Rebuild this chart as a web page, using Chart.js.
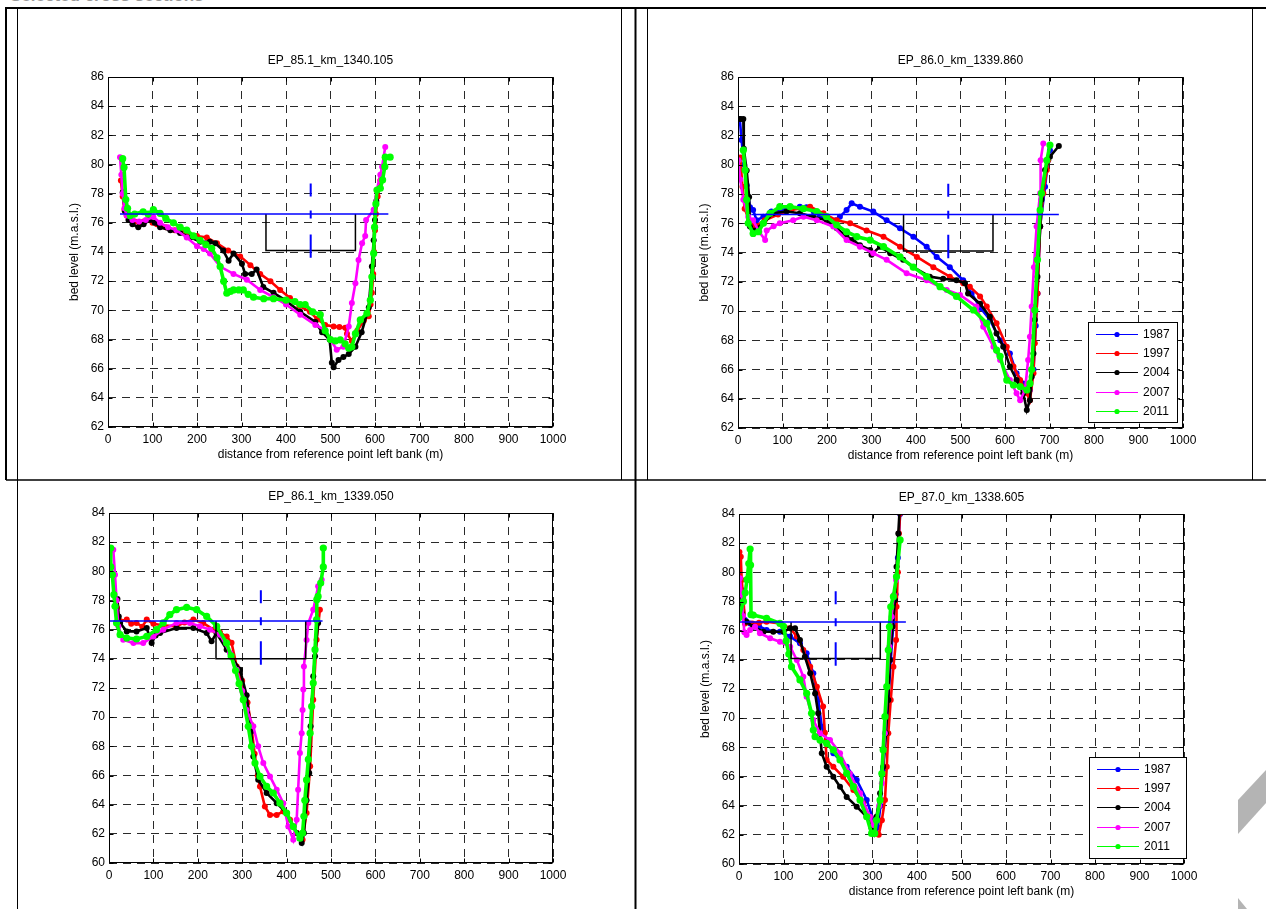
<!DOCTYPE html>
<html>
<head>
<meta charset="utf-8">
<script src="https://cdn.jsdelivr.net/npm/chart.js@4.4.1/dist/chart.umd.min.js"></script>
<style>
html,body{margin:0;padding:0;background:#fff;width:1266px;height:909px;overflow:hidden;position:relative;font-family:'Liberation Sans',Arial,sans-serif}
canvas{position:absolute}
#frame{position:absolute;left:0;top:0}
#head{position:absolute;left:10px;top:-13px;font:bold 17px/17px 'Liberation Sans',Arial,sans-serif;color:#999;white-space:nowrap}
</style>
</head>
<body>
<div id="head">Selected cross sections</div>
<svg id="frame" width="1266" height="909">
  <g stroke="#000" fill="none">
    <line x1="5" y1="8" x2="1266" y2="8" stroke-width="2"/>
    <line x1="6" y1="7" x2="6" y2="480" stroke-width="2"/>
    <line x1="17.5" y1="8" x2="17.5" y2="909" stroke-width="1"/>
    <line x1="621.5" y1="8" x2="621.5" y2="480" stroke-width="1"/>
    <line x1="635.5" y1="8" x2="635.5" y2="909" stroke-width="2"/>
    <line x1="647.5" y1="8" x2="647.5" y2="480" stroke-width="1"/>
    <line x1="1252.5" y1="8" x2="1252.5" y2="480" stroke-width="1"/>
    <line x1="6" y1="480" x2="1266" y2="480" stroke-width="1.5"/>
  </g>
  <polygon points="1238,800 1266,770 1266,803 1238,834" fill="#b4b4b4"/>
  <polygon points="1238,898 1247,909 1238,909" fill="#b4b4b4"/>
</svg>
<canvas id="c1" width="598" height="432" style="left:20px;top:40px"></canvas>
<canvas id="c2" width="600" height="432" style="left:650px;top:40px"></canvas>
<canvas id="c3" width="613" height="427" style="left:20px;top:482px"></canvas>
<canvas id="c4" width="600" height="427" style="left:650px;top:482px"></canvas>
<script>
// ---------------- DATA ----------------
const years = ['1987', '1997', '2004', '2007', '2011'];
const titles = ['EP_85.1_km_1340.105', 'EP_86.0_km_1339.860', 'EP_86.1_km_1339.050', 'EP_87.0_km_1338.605'];
const xTickValues = [0, 100, 200, 300, 400, 500, 600, 700, 800, 900, 1000];
const yTickValuesTop = [62, 64, 66, 68, 70, 72, 74, 76, 78, 80, 82, 84, 86];
const yTickValuesBottom = [60, 62, 64, 66, 68, 70, 72, 74, 76, 78, 80, 82, 84];
const xAxisTitle = 'distance from reference point left bank (m)';
const yAxisTitle = 'bed level (m.a.s.l.)';

// water level, navigation channel (x range, bed), water line extent
const waterLevel = [76.6, 76.6, 76.6, 76.6];
const wlExtent = [[27, 630], [30, 721], [2, 481], [0, 375]];
const channelX = [[355, 556], [372, 573], [241, 443], [117, 317.5]];
const channelBed = [74.1, 74.1, 74.0, 74.1];
const centreLineY = [78.7, 73.6];

// EP_85.1
const p1_1997 = [[29,78.9],[33,77.8],[37,76.9],[42,76.5],[50,76.3],[60,76.1],[70,76.0],[80,76.1],[90,76.2],[100,76.0],[110,75.9],[130,75.7],[150,75.5],[170,75.3],[200,75.1],[222,75.0],[245,74.6],[270,74.1],[297,73.7],[320,73.1],[342,72.5],[365,72.0],[387,71.4],[409,70.85],[430,70.3],[454,69.9],[470,69.4],[488,69.0],[507,68.9],[520,68.85],[533,68.8],[537,68.4],[548,67.9],[560,68.6],[575,69.3],[586,69.6],[590,70.4],[593,71.2],[596,72.5],[598,74.0],[600,75.5],[602,76.6],[606,77.8],[612,78.9]];
const p1_2004 = [[33,78.1],[38,76.8],[46,76.2],[55,75.9],[68,75.7],[80,75.9],[94,76.2],[105,76.0],[117,75.7],[140,75.5],[162,75.3],[185,75.0],[207,74.7],[229,74.7],[241,74.6],[259,74.1],[271,73.4],[282,73.9],[301,73.2],[308,72.5],[323,72.5],[334,72.8],[349,71.6],[372,71.2],[398,70.7],[432,69.9],[466,69.2],[481,68.5],[498,68.0],[503,66.4],[507,66.1],[518,66.6],[529,66.8],[541,67.0],[556,67.5],[570,68.5],[586,70.2],[593,73.0],[597,74.8],[600,76.2],[603,77.5]];
const p1_2007 = [[27,80.5],[30,79.3],[33,78.0],[37,77.0],[42,76.5],[55,76.2],[70,76.1],[85,76.2],[102,76.4],[117,76.0],[135,75.7],[154,75.5],[177,75.0],[200,74.4],[215,74.2],[229,73.9],[252,73.0],[282,72.5],[312,72.1],[342,71.4],[372,70.9],[400,70.4],[432,69.7],[466,69.0],[488,68.65],[500,68.0],[514,67.3],[529,67.5],[541,68.9],[548,70.5],[556,71.85],[563,73.45],[571,74.6],[578,75.1],[580,76.2],[597,76.9],[604,78.25],[612,79.3],[616,79.85],[623,81.2]];
const p1_2011 = [[33,80.4],[36,79.8],[40,77.6],[44,77.0],[50,76.5],[60,76.6],[79,76.76],[90,76.6],[102,76.9],[117,76.65],[130,76.3],[147,76.0],[162,75.7],[177,75.5],[192,75.1],[207,74.8],[220,74.5],[233,74.25],[245,73.6],[252,73.0],[260,72.0],[267,71.17],[275,71.3],[282,71.4],[294,71.4],[304,71.4],[315,71.1],[327,70.9],[350,70.8],[372,70.8],[400,70.7],[420,70.6],[432,70.4],[443,70.4],[460,69.9],[477,69.7],[488,68.6],[500,68.0],[511,67.9],[522,67.97],[533,67.7],[541,67.4],[548,67.5],[556,68.4],[567,69.34],[582,69.8],[589.5,70.7],[593,72.3],[597,73.9],[599,75.7],[602,77.3],[604.5,78.25],[612,78.37],[617,78.94],[622,79.85],[623,80.5],[634,80.5]];

// EP_86.0
const p2_1987 = [[4,83.13],[8,81.7],[14,80.0],[19.5,78.6],[27,77.1],[34,76.9],[42,76.2],[57,76.45],[75,76.8],[95,76.9],[117,77.0],[139,77.13],[154,77.1],[170,76.8],[184,76.45],[207,76.0],[220,76.2],[229,76.45],[244,76.9],[255.5,77.36],[274,77.13],[304,76.8],[334,76.2],[364,75.65],[394,75.08],[424,74.4],[446.5,73.7],[476,73.0],[506,72.1],[525,71.2],[545,70.2],[566,69.4],[589,68.0],[611,67.1],[626,65.74],[641,65.05],[656,64.6],[664,66.0],[669,69.0],[673,71.2],[679,75.8],[690,78.5],[697,80.3],[701,81.0]];
const p2_1997 = [[5,80.5],[10,78.5],[15,77.0],[25,76.2],[40,75.8],[60,76.2],[90,76.6],[120,76.9],[162,77.13],[192,76.68],[222,76.2],[252,76.0],[289,75.5],[327,75.08],[364,74.4],[402,73.7],[439,73.0],[476,72.35],[506,71.9],[521,71.66],[544,71.0],[559,70.3],[581,69.16],[604,67.56],[619,66.2],[634,65.28],[649,64.37],[656,63.9],[664,65.74],[667,67.8],[673,71.2],[679,75.77],[686,78.05],[694,79.64],[697,80.3]];
const p2_2004 = [[0,83.13],[6,83.13],[12,83.13],[13,81.1],[19.5,79.6],[25,77.8],[27,75.77],[34,75.5],[57,76.0],[79,76.68],[109,76.8],[139,76.68],[169,76.45],[199,76.2],[222,75.65],[244,75.08],[252,74.85],[259,74.85],[274,74.5],[297,74.17],[300,73.85],[319,74.4],[342,73.95],[371,73.5],[394,73.0],[431,72.35],[461,72.2],[491,72.1],[510,71.9],[517,71.2],[544,70.5],[566,69.6],[581,68.47],[596,67.56],[611,66.2],[626,65.28],[641,64.37],[649,63.23],[656,63.9],[660,65.5],[664,67.1],[667,69.4],[673,72.35],[679,75.77],[682,77.6],[690,79.64],[701,80.55],[721,81.28]];
const p2_2007 = [[1,80.3],[5,79.0],[12,77.6],[23,76.45],[34,76.2],[48,75.4],[61,74.85],[64.5,75.5],[80,75.8],[94,76.0],[124,76.2],[147,76.45],[177,76.2],[214,75.77],[244,74.85],[274,74.4],[304,73.95],[334,73.5],[379,72.58],[424,72.1],[469,71.44],[499,71.1],[536,70.3],[551,68.93],[574,67.56],[589,66.65],[611,65.28],[626,64.37],[634,63.9],[645,64.6],[652,66.65],[656,68.24],[660,70.3],[665,73.0],[671,75.77],[679,78.05],[680,80.3],[686,81.46]];
const p2_2011 = [[12,81.0],[16,79.64],[19.5,77.6],[23,76.0],[34,75.3],[46,75.42],[57,76.0],[72,76.68],[94,77.13],[117,77.13],[147,77.0],[177,76.8],[199,76.45],[222,75.88],[244,75.42],[267,75.08],[297,74.85],[327,74.4],[364,73.7],[394,73.0],[424,72.35],[454,71.66],[491,71.0],[529,70.07],[559,69.16],[581,67.33],[589,66.9],[604,65.28],[619,64.94],[634,64.83],[649,64.6],[656,65.05],[660,66.0],[667,70.07],[673,73.5],[679,76.9],[682,78.05],[694,80.3],[701,81.35]];

// EP_86.1
const p3_1997 = [[18,77.5],[25,76.6],[40,76.69],[50,76.4],[62,76.46],[75,76.2],[85,76.69],[100,76.4],[120,76.3],[152,76.23],[170,76.5],[190,76.69],[212,76.46],[235,76.0],[250,75.8],[265,75.54],[276,75.1],[287.6,73.48],[300,72.5],[312,71.0],[320,69.5],[328,67.5],[335,66.0],[340,65.25],[351,63.88],[362.6,63.3],[377.7,63.3],[392.6,63.54],[407.7,62.97],[422.7,62.05],[436,61.6],[445,63.43],[453,66.63],[460,71.2],[467.6,75.31],[475,77.37]];
const p3_2004 = [[19,78.1],[22,76.9],[25,76.46],[40,75.88],[62,75.88],[85,76.11],[96,75.08],[105,75.6],[115,75.77],[152,76.11],[190,76.11],[220,75.77],[231,75.2],[242,75.77],[265,74.63],[295,73.26],[310,71.5],[320,69.0],[325,67.3],[336,65.71],[355,64.8],[377.7,64.1],[400,63.43],[422.7,62.05],[434,61.37],[439,62.05],[445,64.3],[451,66.17],[454,69.37],[460,72.8],[464,74.17],[471,76.46]];
const p3_2007 = [[9.7,81.48],[13.5,79.77],[17,78.0],[21,76.23],[32,75.31],[55,75.08],[77,75.08],[100,75.54],[122,76.0],[152,76.46],[182,76.46],[205,76.23],[227.5,76.0],[250,75.66],[272.5,74.4],[287.6,73.26],[300,71.8],[310,70.5],[325,69.37],[336,68.0],[347.5,66.85],[362.6,65.94],[377.7,65.03],[392.6,64.1],[403.8,62.5],[415,61.6],[422.7,62.97],[426,65.03],[430,67.54],[434,68.9],[436,70.5],[437.6,71.9],[439,73.48],[445,75.3],[449,76.46],[460,77.37],[471,78.97],[479,79.43]];
const p3_2011 = [[4,81.6],[4,80.3],[7.5,79.77],[11,78.4],[13.5,77.6],[17,76.46],[25,75.66],[40,75.43],[62,75.36],[85,75.54],[107,76.0],[122,76.46],[137,77.03],[152,77.37],[175,77.53],[197.5,77.37],[220,76.91],[242.6,76.23],[265,75.08],[275,74.2],[285,73.2],[293,72.3],[302.5,71.2],[313.7,69.37],[321,68.0],[328.8,66.85],[340,65.94],[355,65.25],[370,64.8],[385,64.1],[400,63.43],[415,62.5],[430,61.7],[436,62.05],[439,63.2],[441,64.3],[445,65.7],[449,67.1],[453,68.9],[456.5,70.74],[460,72.34],[464,74.63],[467.6,76.69],[468,78.06],[471,78.28],[476.8,79.2],[482.7,80.3],[482.7,81.6]];

// EP_87.0
const p4_1987 = [[0,81.07],[6,78.79],[13.5,76.73],[25,76.5],[45,76.3],[62,76.05],[92,75.93],[115,75.6],[137,75.13],[152,74.45],[167,73.08],[178,71.25],[186,69.42],[197,68.5],[212,67.6],[242,66.67],[264.5,65.76],[287,64.39],[302,63.0],[306,62.3],[312,62.5],[318,64.0],[324,66.5],[330,69.0],[336,71.5],[341,74.0],[347,76.5],[352,78.5],[357,81.0],[362,84.0],[366,86.5]];
const p4_1997 = [[1,81.4],[4,81.07],[6,79.47],[10,78.1],[13.5,76.5],[30,76.5],[45,76.55],[62,76.62],[92,76.5],[115,76.16],[130,75.6],[144.5,74.67],[160,73.53],[175,72.16],[189,70.8],[193,69.0],[197,67.13],[212,66.67],[234,65.98],[257,65.07],[279,64.16],[294,63.24],[309,62.1],[314,62.0],[321,63.0],[328,64.39],[332,66.67],[335.5,68.96],[341,71.25],[347,73.53],[353,75.36],[354,77.64],[357,80.0],[359.5,82.67],[362,84.05],[365,86.5]];
const p4_2004 = [[1,78.1],[6,77.2],[17,76.62],[32,76.27],[55,75.93],[77,75.93],[100,75.93],[115,76.16],[126,76.16],[137,75.36],[148,74.22],[160,73.08],[171,71.7],[178,70.33],[182,68.96],[186,67.6],[197,66.67],[212,65.98],[227,65.3],[242,64.6],[264.5,63.93],[287,63.24],[298,62.45],[303,62.1],[309,63.24],[317,64.85],[324,66.67],[330,68.96],[335.5,71.25],[339,73.99],[345,76.27],[350.6,78.1],[354,80.39],[358,82.67],[361,84.3],[364,86.5]];
const p4_2007 = [[2,79.6],[6,78.5],[9,77.0],[12,75.9],[17,75.7],[25,76.05],[36,76.27],[47,75.82],[70,75.48],[92,75.24],[115,74.9],[130,73.99],[144.5,72.84],[152,71.47],[167,69.87],[182,68.96],[204.5,68.5],[227,67.6],[249,66.2],[272,64.85],[294,63.24],[302,62.67],[309,63.0],[315,64.0],[321,65.53],[328,68.96],[333,72.16],[338,74.9],[343,76.96],[348,78.45],[353,79.47]];
const p4_2011 = [[0,76.9],[10,78.0],[14,78.6],[18,79.5],[22,80.6],[25,81.6],[26,80.5],[27,77.1],[32,77.07],[62,76.85],[92,76.5],[100,76.3],[106,75.3],[112,74.4],[118,73.53],[137,72.62],[152,71.7],[163,70.33],[167,69.19],[171,68.73],[182,68.5],[197,68.27],[212,67.82],[227,67.13],[242,66.22],[257,65.3],[272,64.39],[287,63.24],[298,62.1],[305,62.1],[309,63.0],[317,64.39],[321,66.2],[324,67.82],[328,70.1],[332,72.16],[335.5,74.67],[338,76.27],[341,77.64],[347,78.33],[354,79.7],[362,82.22]];

// ---------------- STYLE / BUILD ----------------
const FONT = "'Liberation Sans', Arial, Helvetica, sans-serif";
Chart.defaults.font.family = FONT;
Chart.defaults.font.size = 12;
Chart.defaults.color = '#000';

const yearColors = ['#0000ff', '#ff0000', '#000000', '#ff00ff', '#00ff00'];

function seriesDatasets(list) {
  const out = [];
  list.forEach((pts, i) => {
    if (!pts) return;
    out.push({
      label: years[i], legendLabel: years[i], legendColor: yearColors[i],
      data: pts.map(p => ({x: p[0], y: p[1]})),
      showLine: true, borderColor: yearColors[i], backgroundColor: yearColors[i],
      borderWidth: i === 4 ? 3.6 : 2.6, pointRadius: i === 4 ? 3.6 : 3, pointBorderWidth: 0,
      pointHoverRadius: 0, order: 5 - i
    });
  });
  return out;
}

function structureDatasets(k) {
  const wl = waterLevel[k], bed = channelBed[k];
  const [c0, c1] = channelX[k];
  const [w0, w1] = wlExtent[k];
  const cx = (c0 + c1) / 2;
  return [
    {label: 'channel', data: [{x: c0, y: wl}, {x: c0, y: bed}, {x: c1, y: bed}, {x: c1, y: wl}],
     showLine: true, borderColor: '#000', borderWidth: 1.5, pointRadius: 0, order: -1},
    {label: 'water level', data: [{x: w0, y: wl}, {x: w1, y: wl}],
     showLine: true, borderColor: '#0000ff', borderWidth: 1.5, pointRadius: 0, order: -2},
    {label: 'axis', data: [{x: cx, y: centreLineY[0]}, {x: cx, y: centreLineY[1]}],
     showLine: true, borderColor: '#0000ff', borderWidth: 2, borderDash: [13, 14, 8, 16, 24, 60], pointRadius: 0, order: -3}
  ];
}

const frameAxes = {
  id: 'frameAxes',
  afterDatasetsDraw(chart, args, o) {
    const {ctx, chartArea: a, scales: {x, y}} = chart;
    ctx.save();
    ctx.strokeStyle = '#000'; ctx.lineWidth = 1; ctx.setLineDash([]);
    const L = Math.round(a.left) + 0.5, R = Math.round(a.right) - 0.5;
    const T = Math.round(a.top) + 0.5, B = Math.round(a.bottom) - 0.5;
    ctx.strokeRect(L, T, R - L, B - T);
    ctx.beginPath();
    x.ticks.forEach(t => {
      const px = Math.round(x.getPixelForValue(t.value)) + 0.5;
      ctx.moveTo(px, B); ctx.lineTo(px, B - 4); ctx.moveTo(px, T); ctx.lineTo(px, T + 4);
    });
    y.ticks.forEach(t => {
      const py = Math.round(y.getPixelForValue(t.value)) + 0.5;
      ctx.moveTo(L, py); ctx.lineTo(L + 4, py); ctx.moveTo(R, py); ctx.lineTo(R - 4, py);
    });
    ctx.stroke();
    ctx.restore();
  },
  afterDraw(chart, args, o) {
    const {ctx, chartArea: a} = chart;
    const cxm = (a.left + a.right) / 2;
    ctx.save();
    ctx.fillStyle = '#000';
    ctx.font = '12px ' + FONT;
    ctx.textAlign = 'center'; ctx.textBaseline = 'middle';
    ctx.fillText(o.title, cxm, a.top - 16);
    if (o.xTitle) ctx.fillText(xAxisTitle, cxm, a.bottom + 28);
    if (o.yTitle) {
      ctx.save();
      ctx.translate(a.left - 33.5, (a.top + a.bottom) / 2);
      ctx.rotate(-Math.PI / 2);
      ctx.fillText(yAxisTitle, 0, 0);
      ctx.restore();
    }
    if (o.legend) {
      const [lx, ly, lw, lh] = o.legend;
      ctx.fillStyle = '#fff'; ctx.fillRect(lx, ly, lw, lh);
      ctx.strokeStyle = '#000'; ctx.lineWidth = 1; ctx.strokeRect(lx + 0.5, ly + 0.5, lw, lh);
      const items = chart.data.datasets.filter(d => d.legendLabel);
      items.forEach((d, i) => {
        const yy = Math.round(ly + 11.5 + i * 19.4) + 0.5;
        ctx.strokeStyle = d.legendColor; ctx.lineWidth = 1;
        ctx.beginPath(); ctx.moveTo(lx + 8, yy); ctx.lineTo(lx + 50, yy); ctx.stroke();
        ctx.fillStyle = d.legendColor;
        ctx.beginPath(); ctx.arc(lx + 29, yy, 2.6, 0, Math.PI * 2); ctx.fill();
        ctx.fillStyle = '#000'; ctx.textAlign = 'left'; ctx.textBaseline = 'middle';
        ctx.fillText(d.legendLabel, lx + 55, yy + 0.5);
      });
    }
    ctx.restore();
  }
};

const panels = [
  {id: 'c1', rect: [20, 40, 598, 432], area: [108, 77, 553, 427], yTicks: yTickValuesTop, k: 0,
   series: [null, p1_1997, p1_2004, p1_2007, p1_2011], xTitle: true, yTitle: true, legend: null},
  {id: 'c2', rect: [650, 40, 600, 432], area: [738, 77, 1183, 428], yTicks: yTickValuesTop, k: 1,
   series: [p2_1987, p2_1997, p2_2004, p2_2007, p2_2011], xTitle: true, yTitle: true, legend: [1088 - 650, 322 - 40, 89, 100]},
  {id: 'c3', rect: [20, 482, 613, 427], area: [109, 513, 553, 863], yTicks: yTickValuesBottom, k: 2,
   series: [null, p3_1997, p3_2004, p3_2007, p3_2011], xTitle: false, yTitle: false, legend: null},
  {id: 'c4', rect: [650, 482, 600, 427], area: [739, 514, 1184, 864], yTicks: yTickValuesBottom, k: 3,
   series: [p4_1987, p4_1997, p4_2004, p4_2007, p4_2011], xTitle: true, yTitle: true, legend: [1089 - 650, 757 - 482, 97, 101]}
];

panels.forEach(p => {
  const [rx, ry, rw, rh] = p.rect;
  const [al, at, ar, ab] = p.area;
  const gridOpts = {color: '#2a2a2a', lineWidth: 1, drawTicks: false};
  const borderOpts = {display: false, dash: [8, 6]};
  new Chart(document.getElementById(p.id), {
    type: 'scatter',
    data: {datasets: seriesDatasets(p.series).concat(structureDatasets(p.k))},
    options: {
      responsive: false, animation: false, devicePixelRatio: 1,
      events: [],
      layout: {padding: {left: 0, top: at - ry, right: rx + rw - ar, bottom: 0}},
      plugins: {
        legend: {display: false}, tooltip: {enabled: false}, title: {display: false},
        frameAxes: {title: titles[p.k], xTitle: p.xTitle, yTitle: p.yTitle, legend: p.legend}
      },
      scales: {
        x: {
          type: 'linear', min: xTickValues[0], max: xTickValues[xTickValues.length - 1],
          afterBuildTicks: s => { s.ticks = xTickValues.map(v => ({value: v})); },
          ticks: {padding: 5, maxRotation: 0, autoSkip: false, color: '#000', font: {size: 12}, callback: v => String(v)},
          grid: gridOpts, border: borderOpts,
          afterFit: s => { s.height = ry + rh - ab; }
        },
        y: {
          type: 'linear', min: p.yTicks[0], max: p.yTicks[p.yTicks.length - 1],
          afterBuildTicks: s => { s.ticks = p.yTicks.map(v => ({value: v})); },
          ticks: {padding: 4, autoSkip: false, color: '#000', font: {size: 12}, callback: v => String(v)},
          grid: gridOpts, border: borderOpts,
          afterFit: s => { s.width = al - rx; }
        }
      }
    },
    plugins: [frameAxes]
  });
});
</script>
</body>
</html>
